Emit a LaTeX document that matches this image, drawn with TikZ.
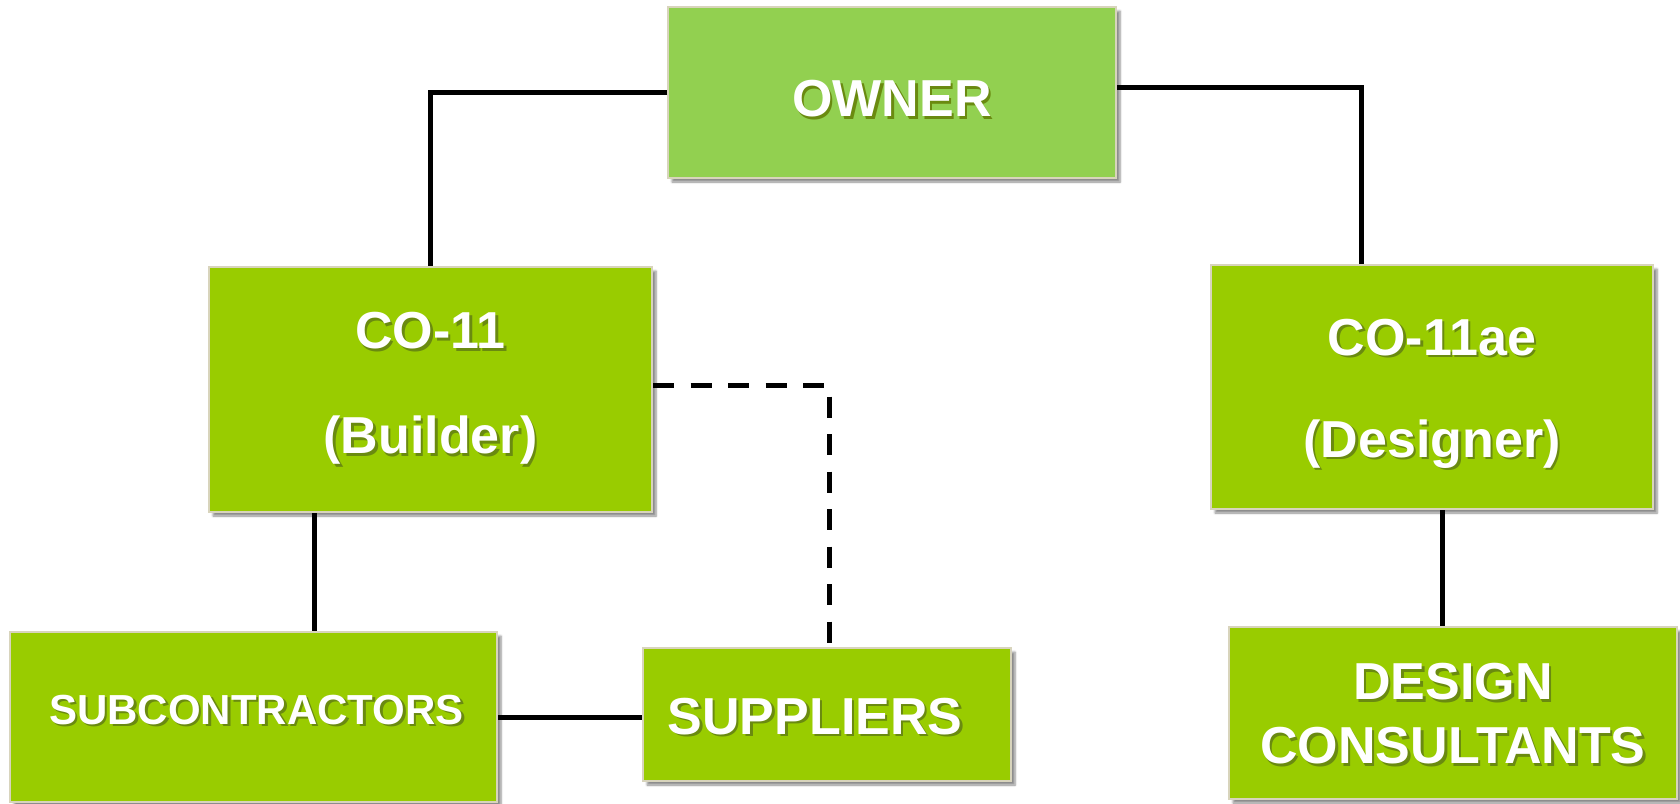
\documentclass[tikz,border=0pt]{standalone}
\usepackage{fontspec}
\setmainfont{Liberation Sans}
\usetikzlibrary{shadows.blur}
\definecolor{ownergreen}{HTML}{92D050}
\definecolor{boxgreen}{HTML}{99CC00}
\definecolor{boxborder}{HTML}{D8D4BC}
\definecolor{tshadow}{HTML}{6A8A10}
\newcommand\sh[1]{\makebox[0pt][l]{\hspace{2.5pt}\raisebox{-2.5pt}{\textcolor{tshadow}{#1}}}#1}
\tikzset{
  box/.style={draw=boxborder, line width=2pt, fill=boxgreen, minimum width=#1, inner sep=0pt,
    blur shadow={shadow xshift=4pt, shadow yshift=-4pt, shadow blur steps=6, shadow opacity=45}},
  txt/.style={text=white, align=center, inner sep=0pt, font=\bfseries\fontsize{52}{#1}\selectfont},
  txt/.default=64,
  conn/.style={line width=5pt, black},
  dconn/.style={line width=5pt, black, dash pattern=on 21pt off 16.5pt}
}
\begin{document}
\begin{tikzpicture}[x=1pt,y=-1pt]
\useasboundingbox (0,0) rectangle (1680,803);
\node[box=448pt, minimum height=171pt, fill=ownergreen] (owner) at (892,92.5) {};
\node[box=443pt, minimum height=245pt] (co11) at (430.5,389.5) {};
\node[box=442pt, minimum height=244pt] (co11ae) at (1432,387) {};
\node[box=487pt, minimum height=170pt] (sub) at (253.5,717) {};
\node[box=368pt, minimum height=133pt] (sup) at (827,714.5) {};
\node[box=448pt, minimum height=172pt] (dc) at (1453,713) {};
% texts
\node[txt] (ownerT) at ([yshift=-7.5pt]owner.center) {\sh{OWNER}};
\node[txt=105] (co11T) at (co11.center) {\sh{CO-11}\\\sh{(Builder)}};
\node[txt=102] (co11aeT) at ([yshift=-8pt]co11ae.center) {\sh{CO-11ae}\\\sh{(Designer)}};
\node[txt, font=\bfseries\fontsize{42}{50}\selectfont] (subT) at ([xshift=3pt,yshift=6pt]sub.center) {\sh{SUBCONTRACTORS}};
\node[txt] (supT) at ([xshift=-12pt,yshift=-3pt]sup.center) {\sh{SUPPLIERS}};
\node[txt] (dcT) at ([yshift=-2pt]dc.center) {\sh{DESIGN}\\\sh{CONSULTANTS}};
% connectors
\draw[conn] (owner.west) -| (co11.north);
\draw[conn] ([yshift=5.5pt]owner.east) -| ([xshift=-71pt]co11ae.north);
\draw[conn] ([xshift=-116.5pt]co11.south) coordinate (c1) -- (c1 |- sub.north);
\draw[conn] (sub.east) -- (sub.east -| sup.west);
\draw[dconn] ([yshift=4.5pt]co11.east) -| ([xshift=2pt]sup.north);
\draw[conn] ([xshift=10pt]co11ae.south) coordinate (c2) -- (c2 |- dc.north);
\end{tikzpicture}
\end{document}
